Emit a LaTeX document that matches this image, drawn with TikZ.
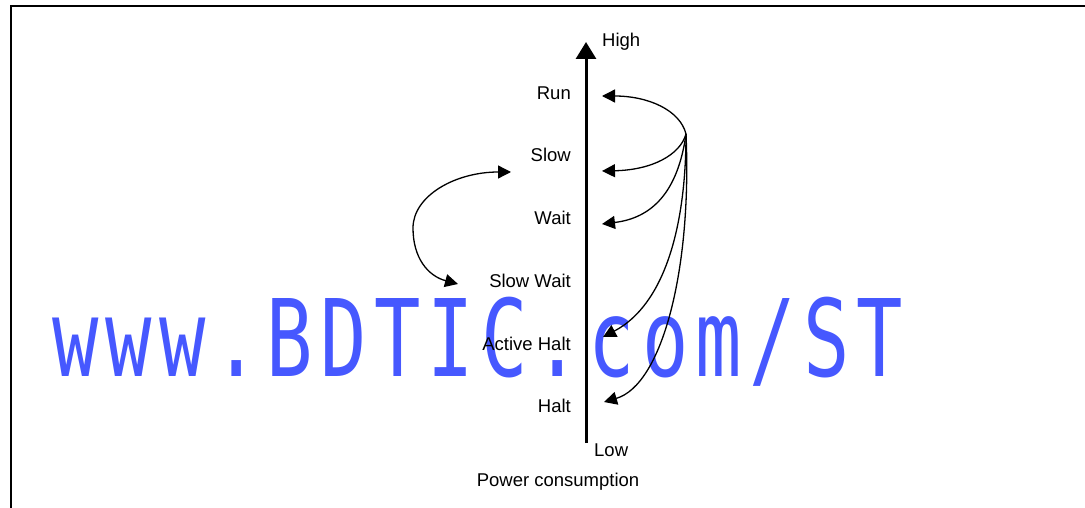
\documentclass[tikz,border=0pt]{standalone}
\usepackage{fontspec}
\setmainfont{Liberation Sans}
\newfontfamily\wmfont{DejaVu Sans Mono}
\usetikzlibrary{arrows.meta}
\definecolor{wmblue}{RGB}{70,88,255}
\newcommand{\wk}{\kern10.1pt}
\begin{document}
\begin{tikzpicture}[x=1pt,y=-1pt,
  lbl/.style={font=\fontsize{18.5}{20}\selectfont, inner sep=0pt},
  statelbl/.style={lbl, anchor=base east},
  trans/.style={line width=1.3pt, -{Triangle[length=13pt,width=13pt]}},
  axisline/.style={line width=3pt, -{Triangle[length=17pt,width=20pt]}}]
\useasboundingbox (0,0) rectangle (1085,508);
\clip (0,0) rectangle (1085,508);
% frame
\draw[line width=2pt] (11,520) -- (11,6) -- (1095,6);
% watermark
\node[anchor=base west, inner sep=0pt, xscale=0.72, text=wmblue,
  font=\wmfont\fontsize{107}{110}\selectfont] (wm) at (52,376)
  {w\wk w\wk w\wk .\wk B\wk D\wk T\wk I\wk C\wk .\wk c\wk o\wk m\wk /\wk S\wk T};
% axis
\coordinate (axlow) at (586,443);
\coordinate (axhigh) at (586,42);
\draw[axisline] (axlow) -- (axhigh);
\node[lbl, anchor=base west] (high) at (602,47) {High};
\node[lbl, anchor=base west] (low) at (594,456) {Low};
\node[lbl, anchor=base] (pc) at (558,486) {Power consumption};
% state labels
\node[statelbl] (run) at (571,100) {Run};
\node[statelbl] (slow) at (571,162) {Slow};
\node[statelbl] (wait) at (571,225) {Wait};
\node[statelbl] (slowwait) at (571,287) {Slow Wait};
\node[statelbl] (ahalt) at (571,350) {Active Halt};
\node[statelbl] (halt) at (571,412) {Halt};
% transitions from right source
\coordinate (src) at (686,134);
\coordinate (trun) at (602,96);
\coordinate (tslow) at (602,171);
\coordinate (twait) at (602,224);
\coordinate (tahalt) at (603,337);
\coordinate (thalt) at (604,402);
\draw[trans] (src) .. controls (680,110) and (648,96) .. (trun);
\draw[trans] (src) .. controls (680,155) and (652,170) .. (tslow);
\draw[trans] (src) .. controls (678,192) and (652,218) .. (twait);
\draw[trans] (src) .. controls (686,228) and (664,305) .. (tahalt);
\draw[trans] (src) .. controls (692,270) and (662,385) .. (thalt);
% left double arrow
\coordinate (ltop) at (511,172);
\coordinate (lbot) at (458,284);
\coordinate (lmid) at (413,228);
\draw[line width=1.3pt, {Triangle[length=13pt,width=13pt]}-{Triangle[length=13pt,width=13pt]}]
  (lbot) .. controls (428,276) and (413,258) .. (lmid)
  .. controls (413,196) and (455,172) .. (ltop);
\end{tikzpicture}
\end{document}
